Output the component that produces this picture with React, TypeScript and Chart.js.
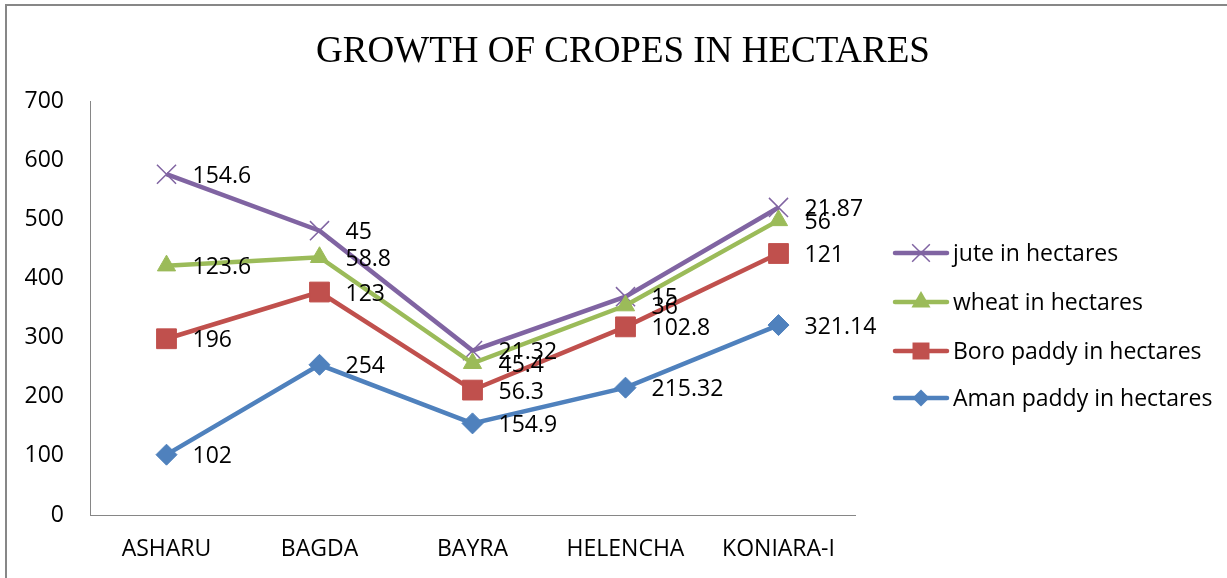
import React, { useEffect, useRef } from 'react';
import { Chart, registerables } from 'chart.js';
Chart.register(...registerables);

const titleText = 'GROWTH OF CROPES IN HECTARES';
const categories = ['ASHARU', 'BAGDA', 'BAYRA', 'HELENCHA', 'KONIARA-I'];
const amanPaddy = [102, 254, 154.9, 215.32, 321.14];
const boroPaddy = [196, 123, 56.3, 102.8, 121];
const wheat = [123.6, 58.8, 45.4, 36, 56];
const jute = [154.6, 45, 21.32, 15, 21.87];
const yMin = 0;
const yMax = 700;
const yStep = 100;

const seriesNames = ['Aman paddy in hectares', 'Boro paddy in hectares', 'wheat in hectares', 'jute in hectares'];
const seriesValues = [amanPaddy, boroPaddy, wheat, jute];
const seriesColors = ['#4F81BD', '#C0504D', '#9BBB59', '#8064A2'];
const seriesMarkers = ['rectRot', 'rect', 'triangle', 'crossRot'];
const seriesRadius = [10.5, 14, 10.5, 13.5];
const legendRadius = [8.5, 12, 11, 12.5];

const FONT = "'Open Sans', 'DejaVu Sans', sans-serif";
const FSIZE = 23;

function drawMarker(ctx: CanvasRenderingContext2D, style: string, x: number, y: number, r: number, color: string) {
  ctx.save();
  ctx.fillStyle = color;
  ctx.strokeStyle = color;
  ctx.beginPath();
  if (style === 'crossRot') {
    const d = r * Math.SQRT1_2;
    ctx.lineWidth = 1.5;
    ctx.moveTo(x - d, y - d);
    ctx.lineTo(x + d, y + d);
    ctx.moveTo(x + d, y - d);
    ctx.lineTo(x - d, y + d);
    ctx.stroke();
  } else if (style === 'triangle') {
    for (let i = 0; i < 3; i++) {
      const a = -Math.PI / 2 + (i * 2 * Math.PI) / 3;
      const px = x + Math.cos(a) * r;
      const py = y + Math.sin(a) * r;
      if (i === 0) ctx.moveTo(px, py);
      else ctx.lineTo(px, py);
    }
    ctx.closePath();
    ctx.fill();
  } else if (style === 'rect') {
    const s = r * Math.SQRT1_2;
    ctx.rect(x - s, y - s, 2 * s, 2 * s);
    ctx.fill();
  } else {
    ctx.moveTo(x, y - r);
    ctx.lineTo(x + r, y);
    ctx.lineTo(x, y + r);
    ctx.lineTo(x - r, y);
    ctx.closePath();
    ctx.fill();
  }
  ctx.restore();
}

const decorPlugin = {
  id: 'decor',
  beforeDraw(chart: any) {
    const ctx = chart.ctx as CanvasRenderingContext2D;
    ctx.save();
    ctx.fillStyle = '#ffffff';
    ctx.fillRect(0, 0, chart.width, chart.height);
    ctx.strokeStyle = '#878787';
    ctx.lineWidth = 2;
    ctx.beginPath();
    ctx.moveTo(6, chart.height);
    ctx.lineTo(6, 5);
    ctx.lineTo(chart.width, 5);
    ctx.stroke();
    ctx.fillStyle = '#000';
    ctx.font = "37px 'Liberation Serif', 'Times New Roman', serif";
    ctx.textAlign = 'center';
    ctx.textBaseline = 'alphabetic';
    ctx.fillText(titleText, 623, 62);
    ctx.restore();
  },
  afterDatasetsDraw(chart: any) {
    const ctx = chart.ctx as CanvasRenderingContext2D;
    ctx.save();
    ctx.fillStyle = '#000';
    ctx.font = `${FSIZE}px ${FONT}`;
    ctx.textAlign = 'left';
    ctx.textBaseline = 'middle';
    chart.data.datasets.forEach((ds: any, di: number) => {
      const meta = chart.getDatasetMeta(di);
      meta.data.forEach((pt: any, i: number) => {
        ctx.fillText(String(seriesValues[di][i]), pt.x + 26, pt.y + 2);
      });
    });
    const order = [3, 2, 1, 0];
    const rows = [253, 302, 351, 398];
    order.forEach((si, k) => {
      const y = rows[k];
      ctx.save();
      ctx.strokeStyle = seriesColors[si];
      ctx.lineWidth = 4.5;
      ctx.lineCap = 'round';
      ctx.beginPath();
      ctx.moveTo(895, y);
      ctx.lineTo(947, y);
      ctx.stroke();
      ctx.restore();
      drawMarker(ctx, seriesMarkers[si], 921, y, legendRadius[si], seriesColors[si]);
      ctx.fillStyle = '#000';
      ctx.fillText(seriesNames[si], 953, y + 1);
    });
    ctx.restore();
  },
};

export default function App() {
  const ref = useRef<HTMLCanvasElement | null>(null);
  useEffect(() => {
    if (!ref.current) return;
    const chart = new Chart(ref.current, {
      type: 'line',
      data: {
        labels: categories,
        datasets: seriesValues.map((vals, i) => ({
          label: seriesNames[i],
          data: vals,
          borderColor: seriesColors[i],
          backgroundColor: seriesColors[i],
          borderWidth: 4.5,
          fill: false,
          tension: 0,
          pointStyle: seriesMarkers[i] as any,
          pointRadius: seriesRadius[i],
          pointHoverRadius: seriesRadius[i],
          pointBorderWidth: seriesMarkers[i] === 'crossRot' ? 1.5 : 1,
          pointBorderColor: seriesColors[i],
          pointBackgroundColor: seriesColors[i],
        })),
      },
      options: {
        animation: false,
        responsive: false,
        devicePixelRatio: 1,
        layout: { padding: { top: 101, right: 372, bottom: 0, left: 0 } },
        plugins: {
          legend: { display: false },
          title: { display: false },
          tooltip: { enabled: false },
        },
        scales: {
          x: {
            offset: true,
            grid: { display: false, drawTicks: false, offset: true },
            border: { display: true, color: '#868686', width: 1 },
            ticks: { color: '#000', font: { family: FONT, size: FSIZE }, padding: 21, maxRotation: 0 },
            afterFit: (s: any) => { s.height = 63; },
          },
          y: {
            stacked: true,
            min: yMin,
            max: yMax,
            grid: { display: false, drawTicks: false },
            border: { display: true, color: '#868686', width: 1 },
            ticks: { stepSize: yStep, color: '#000', font: { family: FONT, size: FSIZE }, padding: 26 },
            afterFit: (s: any) => { s.width = 90; },
          },
        },
      },
      plugins: [decorPlugin],
    });
    return () => chart.destroy();
  }, []);
  return (
    <div style={{ position: 'fixed', left: 0, top: 0, width: 1227, height: 578, background: '#fff' }}>
      <canvas ref={ref} width={1227} height={578} style={{ display: 'block', width: 1227, height: 578 }} />
    </div>
  );
}
